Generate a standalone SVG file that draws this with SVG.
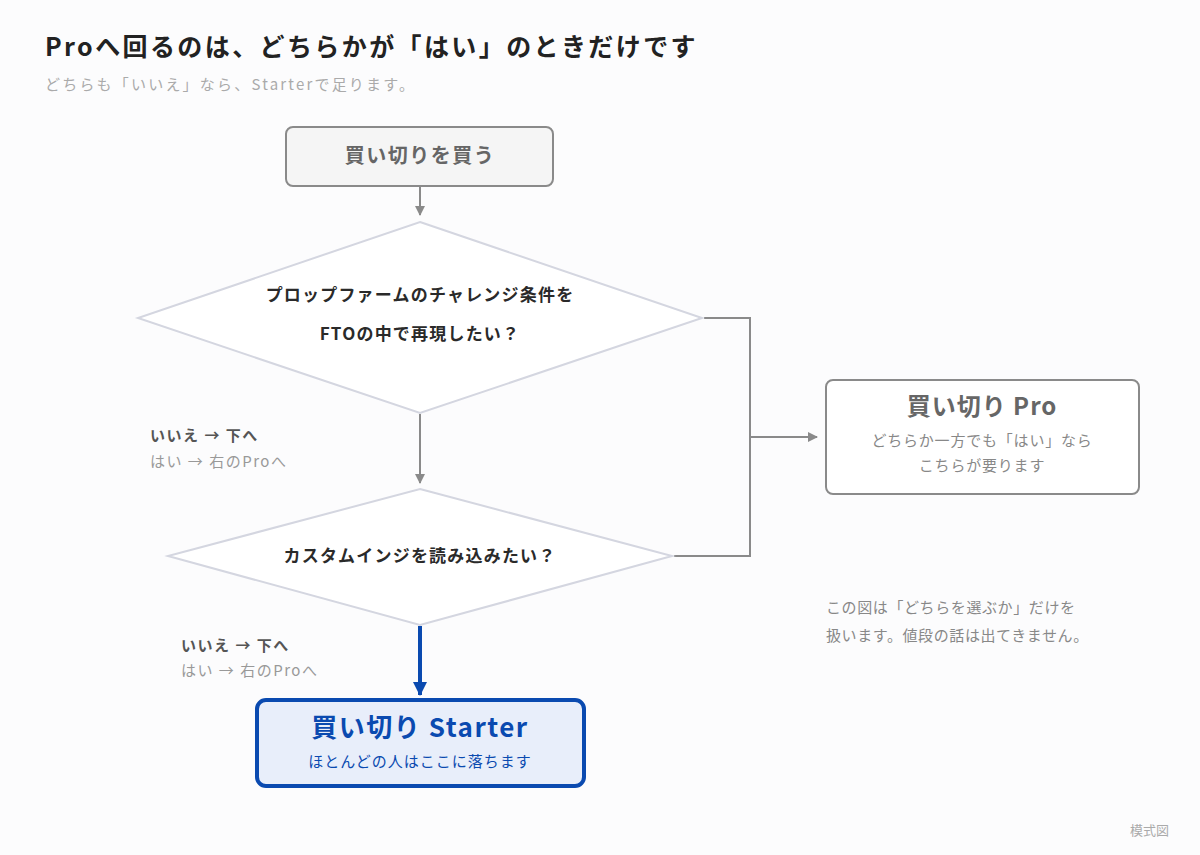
<svg xmlns="http://www.w3.org/2000/svg" width="1200" height="855" viewBox="0 0 1200 855">
<style>
text{font-family:"Noto Sans CJK JP","Noto Sans",sans-serif}
.c{fill:none;stroke:#8a8a8a;stroke-width:2}
.d{fill:#fff;stroke:#d4d6e0;stroke-width:2}
.q{font-size:17px;font-weight:bold;fill:#2a2a2a;text-anchor:middle;letter-spacing:1.2px}
.lb{font-size:15px;font-weight:bold;fill:#555;letter-spacing:1.5px}
.lg{font-size:15px;fill:#999;letter-spacing:1.5px}
</style>
<defs>
<marker id="ag" markerWidth="10" markerHeight="10" refX="9" refY="5" orient="auto" markerUnits="userSpaceOnUse"><path d="M0,0 L10,5 L0,10 z" fill="#8a8a8a"/></marker>
<marker id="ab" markerWidth="14" markerHeight="14" refX="13" refY="7" orient="auto" markerUnits="userSpaceOnUse"><path d="M0,0 L14,7 L0,14 z" fill="#0a4ab0"/></marker>
</defs>
<rect width="1200" height="855" fill="#fcfcfd"/>
<text x="45" y="56" font-size="25" font-weight="bold" fill="#222" letter-spacing="2.4">Proへ回るのは、どちらかが「はい」のときだけです</text>
<text x="45" y="90" font-size="15" fill="#aaa" letter-spacing="2.2">どちらも「いいえ」なら、Starterで足ります。</text>
<g id="connectors">
<line class="c" x1="420" y1="187" x2="420" y2="215" marker-end="url(#ag)"/>
<line class="c" x1="420" y1="414" x2="420" y2="483" marker-end="url(#ag)"/>
<polyline class="c" points="704,318 750,318 750,556 674,556"/>
<line class="c" x1="750" y1="437" x2="817" y2="437" marker-end="url(#ag)"/>
<line x1="420" y1="626" x2="420" y2="695" stroke="#0a4ab0" stroke-width="4" marker-end="url(#ab)"/>
</g>
<g id="start"><rect x="286" y="127" width="267" height="59" rx="7" fill="#f5f5f5" stroke="#8a8a8a" stroke-width="2"/>
<text x="420" y="163" font-size="20" font-weight="bold" fill="#666" text-anchor="middle" letter-spacing="1.5">買い切りを買う</text></g>
<g id="q1"><polygon class="d" points="420,222 702,318 420,413 138,318"/>
<text class="q" x="420" y="301">プロップファームのチャレンジ条件を</text>
<text class="q" x="420" y="340">FTOの中で再現したい？</text></g>
<g id="q2"><polygon class="d" points="420,489 672,556 420,625 168,556"/>
<text class="q" x="420" y="562" letter-spacing="2.4">カスタムインジを読み込みたい？</text></g>
<g id="l1"><text class="lb" x="150" y="441">いいえ → 下へ</text><text class="lg" x="150" y="467">はい → 右のProへ</text></g>
<g id="l2"><text class="lb" x="181" y="651">いいえ → 下へ</text><text class="lg" x="181" y="676">はい → 右のProへ</text></g>
<g id="pro"><rect x="826" y="380" width="313" height="114" rx="7" fill="#fff" stroke="#8a8a8a" stroke-width="2"/>
<text x="982" y="415" font-size="24" font-weight="bold" fill="#666" text-anchor="middle" letter-spacing="1">買い切り Pro</text>
<text x="982" y="446" font-size="15" fill="#888" text-anchor="middle" letter-spacing="0.8">どちらか一方でも「はい」なら</text>
<text x="982" y="471" font-size="15" fill="#888" text-anchor="middle" letter-spacing="0.8">こちらが要ります</text></g>
<g id="starter"><rect x="257" y="700" width="327" height="86" rx="9" fill="#e8eefa" stroke="#0a4ab0" stroke-width="4"/>
<text x="420" y="737" font-size="26" font-weight="bold" fill="#0a4ab0" text-anchor="middle" letter-spacing="1.5">買い切り Starter</text>
<text x="420" y="767" font-size="15" fill="#0a4ab0" text-anchor="middle" letter-spacing="1">ほとんどの人はここに落ちます</text></g>
<text x="826" y="613" font-size="15" fill="#888" letter-spacing="0.6">この図は「どちらを選ぶか」だけを</text>
<text x="826" y="641" font-size="15" fill="#888" letter-spacing="0.6">扱います。値段の話は出てきません。</text>
<text x="1169" y="835" font-size="13" fill="#aaa" text-anchor="end">模式図</text>
</svg>
